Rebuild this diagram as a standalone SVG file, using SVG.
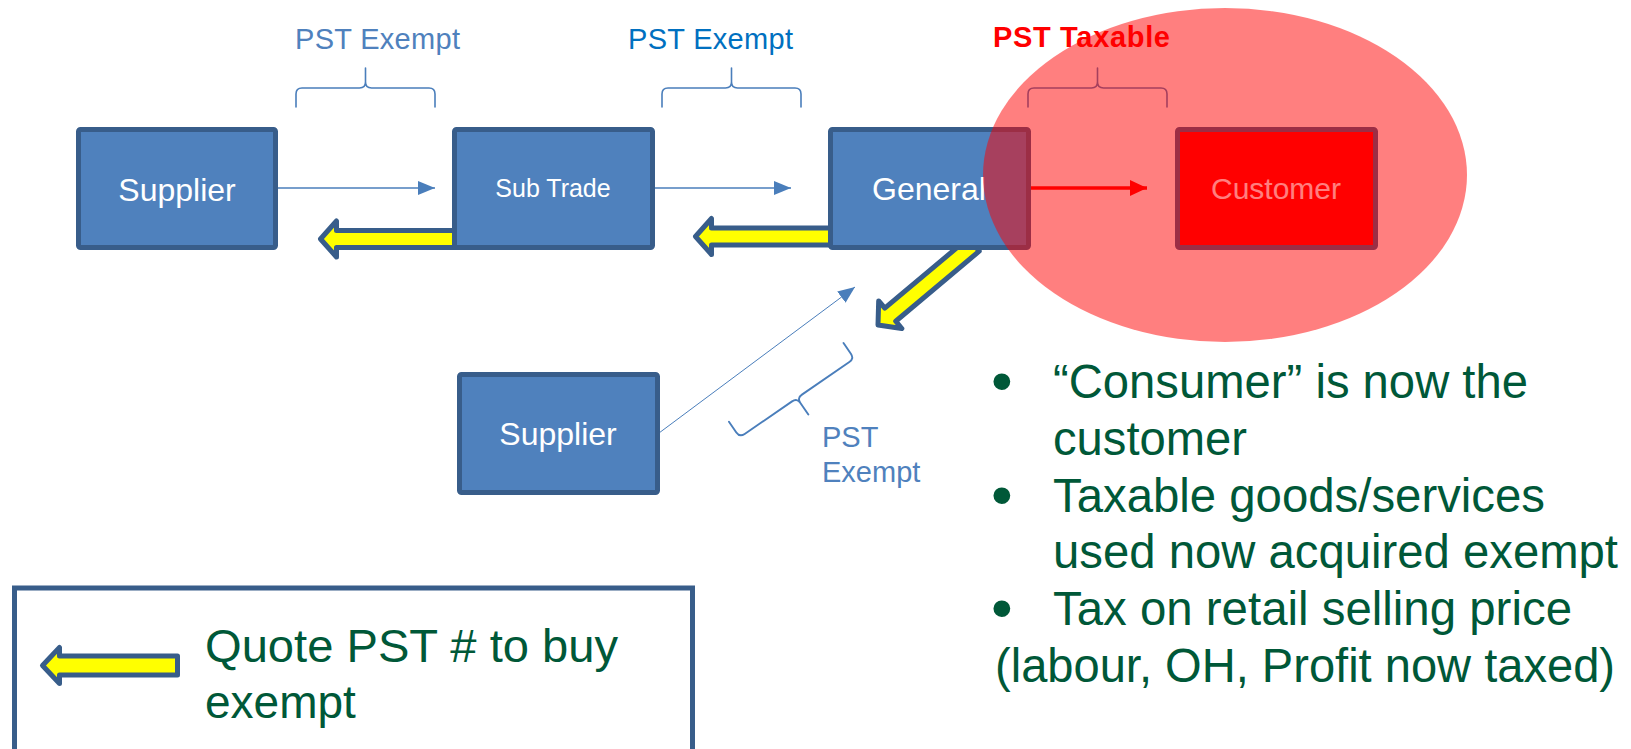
<svg xmlns="http://www.w3.org/2000/svg" width="1631" height="749" viewBox="0 0 1631 749">
  <style>
    text { font-family: "Liberation Sans", Arial, sans-serif; }
    .box { fill: #4F81BD; stroke: #385D8A; stroke-width: 5; }
    .box-red { fill: #FF0000; stroke: #385D8A; stroke-width: 5; }
    .node-label { fill: #FFFFFF; font-size: 32px; text-anchor: middle; }
    .flow { stroke: #4A7EBB; stroke-width: 1.5; fill: none; }
    .brace { stroke: #4A7EBB; stroke-width: 1.6; fill: none; stroke-linecap: round; stroke-linejoin: round; }
    .quote { fill: #FFFF00; stroke: #385D8A; stroke-width: 5; stroke-linejoin: round; }
    .tag { font-size: 29px; fill: #4F81BD; }
    .note { font-size: 48px; fill: #005838; }
    .bullet { font-size: 62px; }
  </style>
  <defs>
    <marker id="head-blue" markerUnits="userSpaceOnUse" markerWidth="17" markerHeight="14" refX="17" refY="7" orient="auto">
      <path d="M0,0 L17,7 L0,14 Z" fill="#4A7EBB"/>
    </marker>
    <marker id="head-red" markerUnits="userSpaceOnUse" markerWidth="17" markerHeight="16" refX="17" refY="8" orient="auto">
      <path d="M0,0 L17,8 L0,16 Z" fill="#FF0000"/>
    </marker>
    <!-- curly brace, shoulder line at y=0, tip up -->
    <path id="brace" d="M -69.5,19 V 6 Q -69.5,0 -63.5,0 H -6 Q 0,0 0,-6 V -20 M 0,-6 Q 0,0 6,0 H 63.5 Q 69.5,0 69.5,6 V 19"/>
  </defs>

  <!-- tax labels and braces over each link -->
  <g id="labels">
    <text class="tag" x="295" y="49" textLength="165">PST Exempt</text>
    <use href="#brace" class="brace" transform="translate(365.5,88)"/>
    <text class="tag" x="628" y="49" textLength="165" style="fill:#0070C0">PST Exempt</text>
    <use href="#brace" class="brace" transform="translate(731.5,88)"/>
    <use href="#brace" class="brace" transform="translate(1097.5,88)"/>
    <use href="#brace" class="brace" style="stroke-width:1.9" transform="translate(797,398) rotate(145.5)"/>
    <text class="tag" x="822" y="447" style="font-size:29px">PST</text>
    <text class="tag" x="822" y="482" style="font-size:29px">Exempt</text>
  </g>

  <!-- connectors -->
  <g id="connectors">
    <line class="flow" x1="277" y1="188" x2="435" y2="188" marker-end="url(#head-blue)"/>
    <line class="flow" x1="655" y1="188" x2="791" y2="188" marker-end="url(#head-blue)"/>
    <line class="flow" x1="659" y1="433" x2="855" y2="287" style="stroke-width:1" marker-end="url(#head-blue)"/>
    <line x1="1031" y1="188" x2="1147" y2="188" stroke="#FF0000" stroke-width="3.5" marker-end="url(#head-red)"/>
    <!-- "quote PST number" arrows, pointing back up the chain -->
    <path class="quote" transform="translate(320.5,239)" d="M0,0 L16,-18 L16,-8.5 L140,-8.5 L140,8.5 L16,8.5 L16,18 Z"/>
    <path class="quote" transform="translate(695.5,236.5)" d="M0,0 L16,-18 L16,-8.5 L140,-8.5 L140,8.5 L16,8.5 L16,18 Z"/>
    <path class="quote" transform="translate(878,325) rotate(-40)" d="M0,0 L16,-18 L16,-8.5 L125,-8.5 L125,8.5 L16,8.5 L16,18 Z"/>
  </g>

  <!-- nodes -->
  <g id="supplier-1">
    <rect class="box" x="78.5" y="129.5" width="197" height="118" rx="2"/>
    <text class="node-label" x="177" y="201">Supplier</text>
  </g>
  <g id="sub-trade">
    <rect class="box" x="454.5" y="129.5" width="198" height="118" rx="2"/>
    <text class="node-label" x="553" y="197" style="font-size:25px">Sub Trade</text>
  </g>
  <g id="general">
    <rect class="box" x="830.5" y="129.5" width="198" height="118" rx="2"/>
    <text class="node-label" x="929" y="200">General</text>
  </g>
  <g id="customer">
    <rect class="box-red" x="1177.5" y="129.5" width="198" height="118" rx="2"/>
    <text class="node-label" x="1276" y="199" style="font-size:30px">Customer</text>
  </g>
  <g id="supplier-2">
    <rect class="box" x="459.5" y="374.5" width="198" height="118" rx="2"/>
    <text class="node-label" x="558" y="445">Supplier</text>
  </g>

  <!-- taxable zone highlight -->
  <ellipse id="taxable-zone" cx="1225" cy="175" rx="242" ry="167" fill="#FF0000" fill-opacity="0.5"/>
  <text x="993" y="47" font-size="29" font-weight="bold" fill="#FF0000" textLength="177">PST Taxable</text>

  <!-- notes -->
  <g id="notes" class="note">
    <text class="bullet" x="991" y="402">•</text>
    <text x="1053" y="398" textLength="475" lengthAdjust="spacingAndGlyphs">“Consumer” is now the</text>
    <text x="1053" y="455" textLength="194" lengthAdjust="spacingAndGlyphs">customer</text>
    <text class="bullet" x="991" y="516">•</text>
    <text x="1053" y="512" textLength="492" lengthAdjust="spacingAndGlyphs">Taxable goods/services</text>
    <text x="1053" y="568" textLength="565" lengthAdjust="spacingAndGlyphs">used now acquired exempt</text>
    <text class="bullet" x="991" y="629">•</text>
    <text x="1053" y="625" textLength="519" lengthAdjust="spacingAndGlyphs">Tax on retail selling price</text>
    <text x="995" y="682" textLength="620" lengthAdjust="spacingAndGlyphs">(labour, OH, Profit now taxed)</text>
  </g>

  <!-- legend -->
  <g id="legend">
    <rect x="14.5" y="588" width="678" height="180" fill="#FFFFFF" stroke="#385D8A" stroke-width="5"/>
    <path class="quote" transform="translate(42.5,665.5)" d="M0,0 L17,-18 L17,-9.5 L135,-9.5 L135,9.5 L17,9.5 L17,18 Z"/>
    <text x="205" y="662" font-size="46" fill="#005838" textLength="413" lengthAdjust="spacingAndGlyphs">Quote PST # to buy</text>
    <text x="205" y="718" font-size="46" fill="#005838">exempt</text>
  </g>
</svg>
